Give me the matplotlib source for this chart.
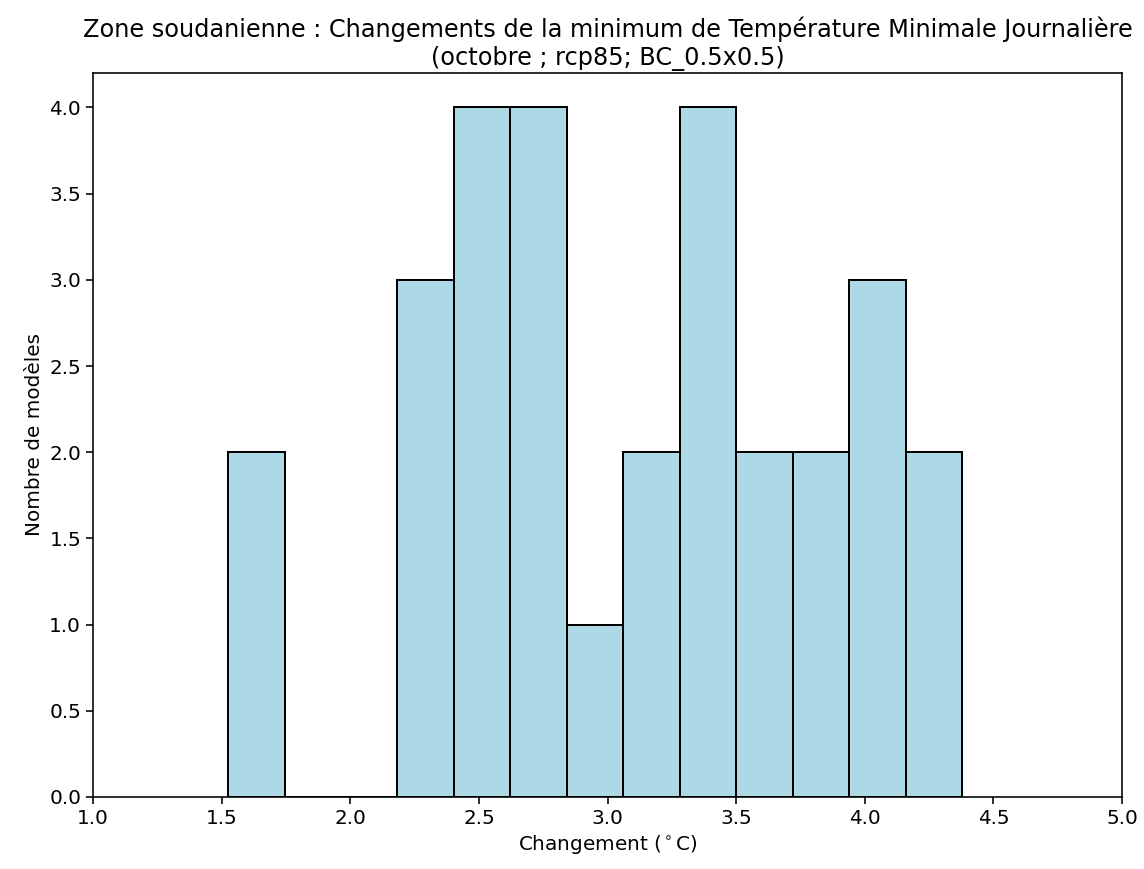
import matplotlib
matplotlib.use("Agg")
import matplotlib.pyplot as plt

# bin edges and model counts
bin_edges = [1.525, 1.745, 1.964, 2.183, 2.403, 2.622, 2.842,
             3.061, 3.281, 3.500, 3.720, 3.939, 4.159, 4.378]
counts = [2, 0, 0, 3, 4, 4, 1, 2, 4, 2, 2, 3, 2]

title = ("Zone soudanienne : Changements de la minimum de Température Minimale Journalière\n"
         "(octobre ; rcp85; BC_0.5x0.5)")

scale = 1.44
plt.rcParams["font.family"] = ["DejaVu Sans"]
plt.rcParams["font.size"] = 10 * scale
plt.rcParams["axes.linewidth"] = 0.8 * scale
plt.rcParams["xtick.major.width"] = 0.8 * scale
plt.rcParams["ytick.major.width"] = 0.8 * scale
plt.rcParams["xtick.major.size"] = 3.5 * scale
plt.rcParams["ytick.major.size"] = 3.5 * scale

fig = plt.figure(figsize=(11.44, 8.69), dpi=100)
ax = fig.add_axes([0.0813, 0.0829, 0.8995, 0.8331])

ax.hist(bin_edges[:-1], bins=bin_edges, weights=counts,
        color="lightblue", edgecolor="black", linewidth=1.0 * scale)

ax.set_xlim(1.0, 5.0)
ax.set_ylim(0, 4.2)
ax.set_xticks([1.0, 1.5, 2.0, 2.5, 3.0, 3.5, 4.0, 4.5, 5.0])
ax.set_yticks([0.0, 0.5, 1.0, 1.5, 2.0, 2.5, 3.0, 3.5, 4.0])
ax.set_xlabel(r"Changement ($^\circ$C)")
ax.set_ylabel("Nombre de modèles")
ax.set_title(title, fontsize=12 * scale)

fig.savefig("out.png", dpi=100)
